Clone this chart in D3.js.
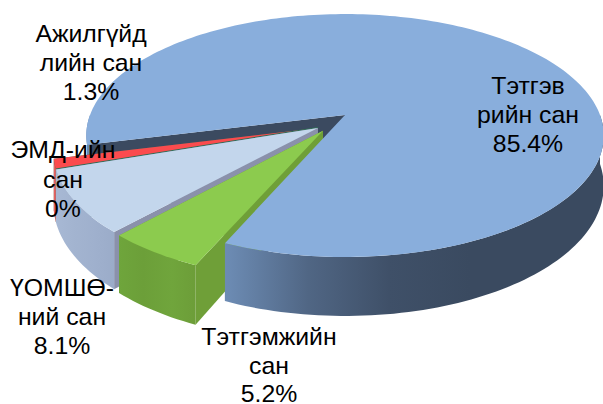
<!DOCTYPE html>
<html>
<head>
<meta charset="utf-8">
<script src="https://cdn.jsdelivr.net/npm/d3@7"></script>
<style>
html, body { margin: 0; padding: 0; background: white; }
svg { display: block; }
</style>
</head>
<body>
<svg id="chart" width="603" height="404"></svg>
<script>
// slices go clockwise, starting from the big one
var names = ["Тэтгэв", "Тэтгэмж", "ҮОМШӨ", "ЭМД", "Ажилгүйд"]
var shares = [85.4, 5.2, 8.1, 0, 1.3]
var labelLines = [
    ["Тэтгэв", "рийн сан", "85.4%"],
    ["Тэтгэмжийн", "сан", "5.2%"],
    ["ҮОМШӨ-", "ний сан", "8.1%"],
    ["ЭМД-ийн", "сан", "0%"],
    ["Ажилгүйд", "лийн сан", "1.3%"]
]
// how far each slice is pulled out, and which way (degrees, clockwise from the back)
var exploded = [0, 0.155, 0.15, 0.15, 0.15]
var pullDeg = [0, 213, 224, 224, 224]
var topColors = ["#89aedc", "#8ccb4e", "#c3d6ec", "#2f6f58", "#fb4b4e"]
var faceColors = ["#3b4a60", "#6f9f38", "#8a91ab", "#2f6f58", "#2f6f58"]
var rimStops = [
    ["#6c8bb3", "#506684", "#3f5068", "#3a4a60"],
    ["#6fa63c", "#6c9f39", "#70a53c", "#6c9c38"],
    ["#a9bad6", "#a3b4d0", "#9fb0cd", "#9aabc8"],
    ["#2f6f58", "#2f6f58", "#2f6f58", "#2f6f58"],
    ["#e8605f", "#e8605f", "#e8605f", "#e8605f"]
]
var labelX = [528, 269, 62, 63, 91]
var labelY = [94, 345, 296, 158, 42]
var lineGap = [29, 28.5, 29, 29.5, 29]

var cx = 345, cy = 115
var rx = 255, ry = 118
var depth = 49
var persp = 0.169
var startAt = 256 * Math.PI / 180

var svg = d3.select("#chart")
var defs = svg.append("defs")

var arcs = d3.pie().sort(null)
    .startAngle(startAt)
    .endAngle(startAt + 2 * Math.PI)(shares)

// disc point -> screen, z=1 is the bottom of the disc
function project(u, v, z) {
    var s = 1 / (1 - persp * v)
    return [cx + rx * u * s, cy + ry * v * s + depth * z * s]
}

function shift(i) {
    var a = pullDeg[i] * Math.PI / 180
    return [Math.sin(a) * exploded[i], -Math.cos(a) * exploded[i]]
}

function onRim(i, a, z) {
    var o = shift(i)
    return project(o[0] + Math.sin(a), o[1] - Math.cos(a), z)
}

function rimPoints(i, a0, a1, z) {
    var n = Math.max(2, Math.ceil(Math.abs(a1 - a0) * 40))
    return d3.range(n + 1).map(function(k) {
        return onRim(i, a0 + (a1 - a0) * k / n, z)
    })
}

var line = d3.line()

function topPath(i) {
    var o = shift(i)
    return line([project(o[0], o[1], 0)].concat(rimPoints(i, arcs[i].startAngle, arcs[i].endAngle, 0))) + "Z"
}

function rimPath(i, a0, a1) {
    return line(rimPoints(i, a0, a1, 0).concat(rimPoints(i, a1, a0, 1))) + "Z"
}

function facePath(i, a) {
    var o = shift(i)
    return line([project(o[0], o[1], 0), onRim(i, a, 0), onRim(i, a, 1), project(o[0], o[1], 1)]) + "Z"
}

function rimGradient(i, x0, x1) {
    var g = defs.append("linearGradient")
        .attr("id", "rim" + i)
        .attr("gradientUnits", "userSpaceOnUse")
        .attr("x1", x0).attr("x2", x1)
        .attr("y1", 0).attr("y2", 0)
    rimStops[i].forEach(function(c, k) {
        g.append("stop").attr("offset", k / 3).attr("stop-color", c)
    })
}

rimGradient(0, 228, 470)
rimGradient(1, 115, 200)
rimGradient(2, 50, 118)
rimGradient(3, 50, 60)
rimGradient(4, 48, 60)

// front half of the rim only, back half is hidden anyway
function drawRim(g, i, a0, a1) {
    g.append("path").attr("d", rimPath(i, a0, a1)).attr("fill", "url(#rim" + i + ")")
}

var turn = 2 * Math.PI
var big = arcs[0]

// big slice, the parts which lie behind the pulled out slices
var back = svg.append("g")
back.append("path").attr("d", facePath(0, big.startAngle)).attr("fill", faceColors[0])
back.append("path").attr("d", facePath(0, big.endAngle)).attr("fill", faceColors[0])
drawRim(back, 0, big.startAngle, 1.5 * Math.PI)

// pulled out slices, far one first
var small = svg.append("g")
;[4, 3, 2, 1].forEach(function(i) {
    var g = small.append("g")
    var a0 = arcs[i].startAngle % turn, a1 = arcs[i].endAngle % turn
    g.append("path").attr("d", facePath(i, a1)).attr("fill", faceColors[i])
    g.append("path").attr("d", facePath(i, a0)).attr("fill", faceColors[i])
    drawRim(g, i, a0, a1)
    g.append("path").attr("d", topPath(i))
        .attr("fill", topColors[i])
        .attr("stroke", shares[i] == 0 ? topColors[i] : "none")
        .attr("stroke-width", shares[i] == 0 ? 2 : 0)
})

// big slice again: its front rim and top cover the green wall
var front = svg.append("g")
drawRim(front, 0, turn + Math.PI / 2, big.endAngle)
front.append("path").attr("d", topPath(0)).attr("fill", topColors[0])

// labels
var labels = svg.append("g")
    .attr("font-family", "'Liberation Sans', Arial, sans-serif")
    .attr("font-size", "24.8px")
    .attr("text-anchor", "middle")
    .attr("fill", "#000")

labels.selectAll("g")
    .data(labelLines)
    .enter()
    .append("g")
    .selectAll("text")
    .data(function(d, i) { return d.map(function(t, k) { return [i, k, t] }) })
    .enter()
    .append("text")
    .attr("x", function(d) { return labelX[d[0]] })
    .attr("y", function(d) { return labelY[d[0]] + d[1] * lineGap[d[0]] })
    .text(function(d) { return d[2] })
</script>
</body>
</html>
